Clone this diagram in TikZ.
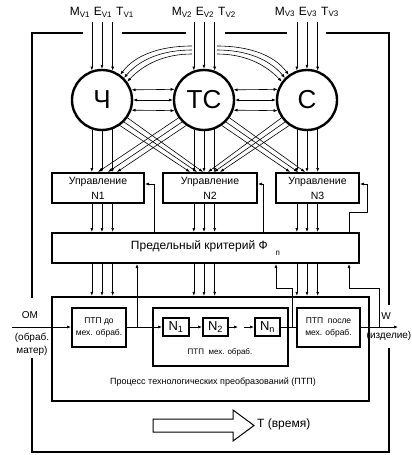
\documentclass[tikz,border=0pt]{standalone}
\usepackage{fontspec}
\setmainfont{Liberation Sans}
\usetikzlibrary{arrows.meta, positioning, calc}
\newcommand{\fs}[1]{\fontsize{#1}{#1}\selectfont}
\newcommand{\unitin}[2]{%
  \foreach \ang in {109.5,90,70.5}
    \draw[flow] (#1.\ang |- 0,22) -- (#1.\ang);
  \node[lbl] (m#2) at ($(#1 |- 0,12)+(-22,0)$) {M\textsubscript{V#2}};
  \node[lbl] (e#2) at ($(#1 |- 0,12)+(1,0)$) {E\textsubscript{V#2}};
  \node[lbl] (t#2) at ($(#1 |- 0,12)+(23,0)$) {T\textsubscript{V#2}};}
\newcommand{\unitdown}[2]{%
  \foreach \ang in {-109.5,-90,-70.5} {
    \draw[flow] (#1.\ang) -- (#1.\ang |- #2.north);
    \draw[flow] (#1.\ang |- #2.south) -- (#1.\ang |- pred.north);
    \draw[flow] (#1.\ang |- pred.south) -- (#1.\ang |- proc.north);}}

\begin{document}
\begin{tikzpicture}[x=1pt, y=-1pt,
  frame/.style={line width=2.8pt},
  blk/.style={draw, line width=2pt, inner sep=0pt, align=center},
  ctrl/.style={blk, minimum height=30pt, font=\fontsize{10.5}{15}\selectfont},
  unit/.style={draw, circle, line width=2.4pt, minimum size=60pt, inner sep=0pt, font=\fs{26}},
  flow/.style={-{Latex[length=4pt,width=3pt]}, line width=0.6pt},
  both/.style={{Latex[length=4pt,width=3pt]}-{Latex[length=4pt,width=3pt]}, line width=0.6pt},
  lbl/.style={inner sep=0pt, font=\fs{12}},
  small/.style={inner sep=0pt, font=\fs{8}}]
  \useasboundingbox (0,0) rectangle (412,455);

  \node[unit] (ch) at (102,100) {Ч};
  \node[unit] (tc) at (204,100) {ТС};
  \node[unit] (sv) at (307,100) {С};

  \node[ctrl, minimum width=92pt] (u1) at (98,188) {Управление\\N1};
  \node[ctrl, minimum width=94pt] (u2) at (210,188) {Управление\\N2};
  \node[ctrl, minimum width=83pt] (u3) at (317.5,188) {Управление\\N3};
  \node[blk, minimum width=307pt, minimum height=30pt, font=\fs{12}] (pred) at (205.5,248) {Предельный критерий Ф\hspace{8pt}\raisebox{-6pt}{\fs{8}п}};

  \node[blk, line width=2.4pt, minimum width=317pt, minimum height=104pt] (proc) at (210.5,349) {};
  \node[blk, minimum width=135pt, minimum height=58pt] (mech) at (220.5,337) {};
  \node[blk, minimum width=54pt, minimum height=39pt, font=\fontsize{8.5}{12}\selectfont] (ptpdo) at (99,327) {ПТП до\\мех. обраб.};
  \node[blk, minimum width=63pt, minimum height=39pt, font=\fontsize{8.5}{12}\selectfont] (ptppo) at (328.5,327) {ПТП\ \ после\\мех. обраб.};
  \node[blk, minimum width=26pt, minimum height=18pt, font=\fs{13}] (k1) at (176,327) {N\textsubscript{1}};
  \node[blk, minimum width=25pt, minimum height=18pt, font=\fs{13}] (k2) at (215.5,327) {N\textsubscript{2}};
  \node[blk, minimum width=25pt, minimum height=18pt, font=\fs{13}] (kn) at (267.5,327) {N\textsubscript{n}};
  \node[small] (mechtxt) at (220,352) {ПТП\ \ мех. обраб.};
  \node[small, font=\fs{9}] (proctxt) at (213,382) {Процесс технологических преобразований (ПТП)};

  \draw[frame] (83,33) -| (32,298);
  \draw[frame] (32,358) |- (389,452) -- (389,348);
  \draw[frame] (389,305) |- (326,33);
  \draw[frame] (122,33) -- (186,33);
  \draw[frame] (225,33) -- (287,33);

  \unitin{ch}{1}
  \unitin{tc}{2}
  \unitin{sv}{3}

  \foreach \a/\b in {19.5/160.5, 0/180, -19.5/-160.5} {
    \draw[both] (ch.\a) -- (tc.\b);
    \draw[both] (tc.\a) -- (sv.\b);}

  \draw[flow] (192,46) .. controls (160,46) and (135,55) .. (ch.54);
  \draw[flow] (192,50) .. controls (163,50) and (140,59) .. (ch.45);
  \draw[flow] (192,54) .. controls (166,54) and (145,63) .. (ch.36);
  \draw[flow] (217,46) .. controls (249,46) and (274,55) .. (sv.126);
  \draw[flow] (217,50) .. controls (246,50) and (269,59) .. (sv.135);
  \draw[flow] (217,54) .. controls (243,54) and (264,63) .. (sv.144);

  \unitdown{ch}{u1}
  \unitdown{tc}{u2}
  \unitdown{sv}{u3}

  \foreach \a/\x in {-35/203, -45/197, -55/190}
    \draw[flow] (ch.\a) -- (\x,0 |- u2.north);
  \foreach \a/\x in {-145/98, -135/108, -125/117}
    \draw[flow] (tc.\a) -- (\x,0 |- u1.north);
  \foreach \a/\x in {-35/305, -45/298, -55/290}
    \draw[flow] (tc.\a) -- (\x,0 |- u3.north);
  \foreach \a/\x in {-145/208, -135/214, -125/220}
    \draw[flow] (sv.\a) -- (\x,0 |- u2.north);

  \draw[flow] (154,0 |- pred.north) |- (u1.east |- 0,184);
  \draw[flow] (263,0 |- pred.north) |- (u2.east |- 0,184);
  \draw[flow] (349,0 |- pred.north) -- (349,212) -| (367,184) -- (u3.east |- 0,184);

  \coordinate (om) at (12,327);
  \coordinate (out) at (398,327);
  \draw[flow] (om) -- (ptpdo);
  \draw[flow] (ptpdo) -- (k1);
  \draw[flow] (k1) -- (k2);
  \draw[flow] (k2) -- (238,327);
  \draw[flow] (244,327) -- (kn);
  \draw[line width=0.6pt] (kn) -- (ptppo);
  \draw[flow] (ptppo) -- (out);

  \draw[flow] (137,327) -- (137,0 |- pred.south);
  \draw[flow] (292,327) -- (292,288) -| (276,0 |- pred.south);
  \draw[flow] (379,327) -- (379,288) -| (349,0 |- pred.south);

  \node[inner sep=0pt, font=\fs{10}] (omtxt) at (30,315) {ОМ};
  \node[inner sep=0pt, font=\fontsize{10}{13}\selectfont, align=center] (omsub) at (32,344) {(обраб.\\матер)};
  \node[inner sep=0pt, font=\fs{10}] (wtxt) at (386,316) {W};
  \node[inner sep=0pt, font=\fs{10}] (izd) at (389,336) {(изделие)};

  \draw[line width=1pt] (153,419) -- (233,419) -- (233,410) -- (254,425.5) -- (233,441) -- (233,432) -- (153,432) -- cycle;
  \node[lbl, anchor=west] (time) at (257,424) {T (время)};
\end{tikzpicture}
\end{document}
